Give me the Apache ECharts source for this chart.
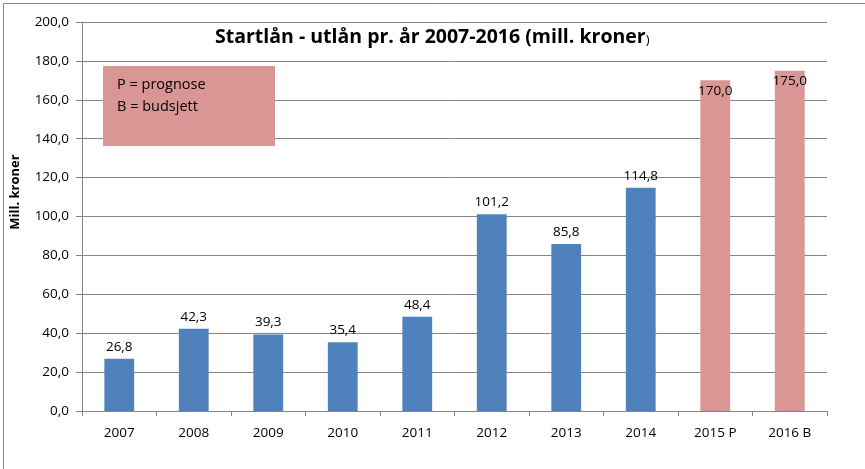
<!DOCTYPE html>
<html><head><meta charset="utf-8">
<script src="https://cdn.jsdelivr.net/npm/echarts@6/dist/echarts.min.js"></script>
<style>html,body{margin:0;padding:0;background:#fff}#c{width:865px;height:469px}</style>
</head><body><div id="c"></div>
<script>
const categories = ['2007','2008','2009','2010','2011','2012','2013','2014','2015 P','2016 B'];
const values = [26.8, 42.3, 39.3, 35.4, 48.4, 101.2, 85.8, 114.8, 170.0, 175.0];
const plannedFlags = [false,false,false,false,false,false,false,false,true,true];
const yTicks = {min: 0, max: 200, interval: 20};
const titleText = 'Startlån - utlån pr. år 2007-2016 (mill. kroner';
const yAxisTitle = 'Mill. kroner';
const legendLines = ['P = prognose', 'B = budsjett'];

const FONT = '"Open Sans", "Noto Sans", sans-serif';
const BLUE = '#4F81BD', PINK = '#D99694';
const fmt = v => v.toFixed(1).replace('.', ',');

const chart = echarts.init(document.getElementById('c'));
chart.setOption({
  animation: false,
  backgroundColor: '#fff',
  grid: {left: 82, right: 38, top: 22, bottom: 58},
  graphic: [
    {type: 'rect', left: 1, top: 1, shape: {width: 862, height: 466},
     style: {fill: 'none', stroke: '#868686', lineWidth: 1}, z: -1},
    {type: 'text', left: 215, top: 27, z: 20,
     style: {rich: {a: {fontSize: 19.5, fontWeight: 'bold', fontFamily: FONT, fill: '#000'},
                    b: {fontSize: 13, fontFamily: FONT, fill: '#000', padding: [6,0,0,0]}},
             text: '{a|' + titleText + '}{b|)}'}},
    {type: 'text', x: 15, y: 192, rotation: Math.PI / 2, z: 20,
     style: {text: yAxisTitle, fontSize: 13, fontWeight: 'bold', fontFamily: FONT, fill: '#000',
             align: 'center', verticalAlign: 'middle'}},
    {type: 'rect', left: 103, top: 66, shape: {width: 172, height: 80},
     style: {fill: PINK}, z: 10},
    {type: 'text', left: 117, top: 74, z: 11,
     style: {text: legendLines.join('\n'), fontSize: 14.5, lineHeight: 22, fontFamily: FONT, fill: '#000'}}
  ],
  xAxis: {
    type: 'category', data: categories,
    axisLine: {lineStyle: {color: '#868686'}},
    axisTick: {show: true, length: 5, lineStyle: {color: '#868686'}},
    axisLabel: {fontSize: 13.5, fontFamily: FONT, color: '#000', margin: 15, interval: 0}
  },
  yAxis: {
    type: 'value', min: yTicks.min, max: yTicks.max, interval: yTicks.interval,
    axisLine: {show: true, lineStyle: {color: '#868686'}},
    axisTick: {show: true, length: 6, lineStyle: {color: '#868686'}},
    axisLabel: {fontSize: 13.5, fontFamily: FONT, color: '#000', margin: 13, formatter: v => fmt(v)},
    splitLine: {lineStyle: {color: '#868686'}}
  },
  series: [{
    type: 'bar', barWidth: '40%',
    data: values.map((v, i) => ({
      value: v,
      itemStyle: {color: plannedFlags[i] ? PINK : BLUE},
      label: plannedFlags[i] ? {position: 'insideTop', distance: 4} : {position: 'top', distance: 5}
    })),
    label: {show: true, fontSize: 13.5, fontFamily: FONT, color: '#000', formatter: p => fmt(p.value)}
  }]
});
</script></body></html>
